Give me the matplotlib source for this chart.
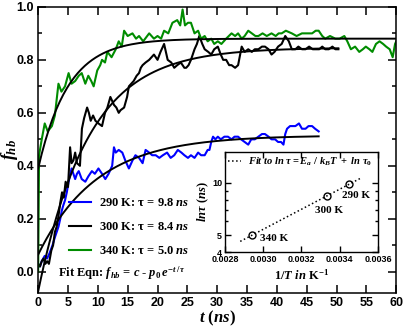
import numpy as np
import matplotlib
matplotlib.use("Agg")
import matplotlib.pyplot as plt
from matplotlib.ticker import MultipleLocator, FixedLocator, NullFormatter

plt.rcParams['mathtext.fontset'] = 'custom'
plt.rcParams['mathtext.rm'] = 'Liberation Serif:bold'
plt.rcParams['mathtext.it'] = 'Liberation Serif:italic:bold'
plt.rcParams['mathtext.bf'] = 'Liberation Serif:bold'

# %% data
temps = [290, 300, 340]
taus = [9.8, 8.4, 5.0]
fit_c = [0.515, 0.846, 0.88]
fit_p0 = [0.45, 0.92, 0.49]
fit_tmax = [47.0, 50.3, 60.0]
colors = ['#0000ff', '#000000', '#008c00']

t_290 = [0, 0.3, 0.6, 1.1, 1.5, 1.9, 2.4, 2.8, 3.1, 3.4, 3.7, 3.95, 4.2, 4.5, 4.8, 5.1, 5.4, 5.6, 5.9,
         6.2, 6.5, 6.8, 7.3, 7.9, 8.4, 9.0, 9.5, 10.1, 10.7, 11.25, 11.8, 12.4, 12.7, 13.0, 13.5, 14.1,
         14.6, 15.2, 15.8, 16.3, 16.9, 17.5, 18.0, 18.6, 19.1, 19.7, 20.3, 20.9, 21.6, 22.2, 22.8, 23.4,
         24.0, 24.5, 25.1, 25.6, 26.2, 26.8, 27.3, 27.9, 28.4, 28.7, 29.0, 29.3, 29.7, 30.1, 30.6, 31.2,
         31.8, 32.4, 32.9, 33.5, 34.0, 34.6, 35.2, 35.7, 36.3, 36.9, 37.5, 38.0, 38.6, 39.1, 39.7, 40.2,
         40.7, 41.1, 41.4, 41.7, 42.2, 42.6, 43.1, 43.7, 44.2, 44.8, 45.3, 45.9, 46.4, 47.0]
f_290 = [0.03, 0.02, 0.04, 0.06, 0.05, 0.07, 0.10, 0.13, 0.15, 0.17, 0.20, 0.23, 0.25, 0.27, 0.30, 0.34,
         0.37, 0.39, 0.37, 0.35, 0.37, 0.38, 0.35, 0.34, 0.36, 0.38, 0.37, 0.39, 0.37, 0.35, 0.37, 0.40,
         0.47, 0.45, 0.46, 0.45, 0.42, 0.39, 0.42, 0.44, 0.43, 0.41, 0.46, 0.45, 0.44, 0.44, 0.43, 0.44,
         0.45, 0.43, 0.44, 0.46, 0.45, 0.44, 0.43, 0.44, 0.43, 0.45, 0.44, 0.44, 0.46, 0.46, 0.49, 0.51,
         0.50, 0.51, 0.50, 0.51, 0.51, 0.50, 0.51, 0.51, 0.50, 0.49, 0.48, 0.50, 0.50, 0.51, 0.52, 0.52,
         0.51, 0.50, 0.50, 0.49, 0.49, 0.48, 0.52, 0.54, 0.55, 0.55, 0.55, 0.56, 0.54, 0.54, 0.55, 0.55,
         0.54, 0.53]

t_300 = [0, 0.3, 0.6, 0.9, 1.2, 1.5, 1.8, 2.2, 2.5, 2.8, 3.1, 3.4, 3.7, 4.0, 4.3, 4.6, 5.0, 5.35, 5.6,
         5.9, 6.2, 6.5, 7.0, 7.33, 7.7, 8.2, 8.5, 8.8, 9.2, 9.6, 10.1, 10.7, 11.2, 11.6, 12.1, 12.7, 13.1,
         13.5, 13.8, 14.4, 14.9, 15.2, 15.6, 16.0, 16.5, 16.9, 17.2, 17.5, 18.0, 18.6, 19.0, 19.4, 20.0,
         20.5, 21.1, 21.7, 22.3, 22.8, 23.3, 23.9, 24.5, 24.8, 25.2, 25.6, 26.2, 26.6, 27.0, 27.5, 27.9,
         28.5, 29.0, 29.5, 30.1, 30.6, 31.0, 31.5, 32.0, 32.4, 33.0, 33.5, 34.1, 34.6, 35.2, 35.8, 36.3,
         36.9, 37.5, 38.0, 38.6, 39.1, 39.6, 40.2, 40.8, 41.4, 42.0, 42.5, 43.1, 43.6, 44.2, 44.8, 45.4,
         46.0, 46.5, 47.1, 47.6, 48.1, 48.7, 49.3, 49.8, 50.3]
f_300 = [0.03, 0.02, 0.04, 0.05, 0.03, 0.04, 0.03, 0.08, 0.10, 0.15, 0.17, 0.21, 0.26, 0.30, 0.28, 0.34,
         0.32, 0.47, 0.41, 0.42, 0.45, 0.41, 0.40, 0.54, 0.58, 0.62, 0.60, 0.57, 0.59, 0.57, 0.56, 0.55,
         0.60, 0.62, 0.66, 0.63, 0.62, 0.60, 0.61, 0.62, 0.66, 0.70, 0.71, 0.72, 0.74, 0.75, 0.77, 0.78,
         0.79, 0.80, 0.81, 0.82, 0.80, 0.83, 0.86, 0.80, 0.79, 0.77, 0.78, 0.79, 0.77, 0.77, 0.78, 0.80,
         0.84, 0.86, 0.89, 0.86, 0.84, 0.83, 0.82, 0.84, 0.85, 0.82, 0.80, 0.80, 0.78, 0.78, 0.77, 0.78,
         0.85, 0.83, 0.84, 0.83, 0.84, 0.84, 0.85, 0.85, 0.84, 0.82, 0.83, 0.85, 0.86, 0.89, 0.87, 0.84,
         0.84, 0.85, 0.84, 0.84, 0.85, 0.84, 0.84, 0.84, 0.85, 0.84, 0.84, 0.85, 0.84, 0.84]

t_340 = [0, 0.15, 0.6, 1.1, 1.6, 2.3, 2.8, 3.4, 3.9, 4.5, 5.1, 5.6, 6.2, 6.8, 7.3, 7.9, 8.4, 8.9, 9.3,
         9.9, 10.4, 10.7, 11.2, 11.6, 12.3, 13.0, 13.5, 14.0, 14.4, 15.0, 15.8, 16.4, 16.9, 17.6, 18.6,
         19.4, 20.0, 20.6, 21.1, 21.8, 22.5, 23.3, 23.8, 24.2, 24.6, 25.1, 25.6, 26.2, 26.8, 27.3, 27.9,
         28.4, 29.0, 29.5, 30.1, 30.7, 31.5, 32.4, 33.0, 33.5, 34.1, 34.6, 35.2, 35.8, 36.4, 36.9, 37.6,
         38.3, 39.1, 39.8, 40.3, 40.8, 41.5, 42.5, 43.3, 44.2, 45.0, 45.9, 46.5, 47.0, 47.6, 48.1, 48.9,
         49.8, 50.5, 51.3, 51.8, 52.4, 53.1, 53.8, 54.4, 54.9, 55.5, 56.0, 56.6, 57.2, 57.8, 58.3, 58.9,
         59.4, 59.8, 60.0]
f_340 = [0.0, 0.44, 0.50, 0.56, 0.53, 0.55, 0.59, 0.71, 0.68, 0.70, 0.75, 0.71, 0.72, 0.74, 0.75, 0.71,
         0.74, 0.72, 0.70, 0.76, 0.78, 0.80, 0.79, 0.83, 0.81, 0.84, 0.87, 0.85, 0.91, 0.89, 0.90, 0.88,
         0.89, 0.87, 0.90, 0.88, 0.89, 0.88, 0.91, 0.90, 0.94, 0.95, 0.93, 0.99, 0.93, 0.94, 0.94, 0.90,
         0.91, 0.88, 0.89, 0.87, 0.88, 0.86, 0.87, 0.86, 0.88, 0.90, 0.89, 0.90, 0.88, 0.89, 0.91, 0.90,
         0.89, 0.89, 0.90, 0.89, 0.90, 0.89, 0.90, 0.90, 0.91, 0.90, 0.89, 0.90, 0.90, 0.90, 0.91, 0.91,
         0.89, 0.88, 0.89, 0.88, 0.88, 0.89, 0.87, 0.84, 0.85, 0.83, 0.84, 0.85, 0.84, 0.83, 0.86, 0.87,
         0.86, 0.85, 0.84, 0.81, 0.86, 0.87]

series_t = [t_290, t_300, t_340]
series_f = [f_290, f_300, f_340]

# inset: tau vs 1/T
inv_T = [1.0 / T for T in temps]
fit_xrange = [0.00288, 0.00351]

# %% figure
fig = plt.figure(figsize=(4.06, 3.27), dpi=100)
ax = fig.add_axes([0.094, 0.104, 0.882, 0.875])

for i in range(3):
    ax.plot(series_t[i], series_f[i], color=colors[i], lw=1.5,
            label=f"{temps[i]} K: τ = {taus[i]} $\\mathit{{ns}}$")
for i in range(3):
    tt = np.linspace(0, fit_tmax[i], 200)
    ax.plot(tt, fit_c[i] - fit_p0[i] * np.exp(-tt / taus[i]), color='black', lw=1.4)

ax.set_xlim(0, 60)
ax.set_ylim(-0.08, 1.0)
ax.xaxis.set_major_locator(MultipleLocator(5))
ax.yaxis.set_major_locator(MultipleLocator(0.2))
ax.yaxis.set_minor_locator(MultipleLocator(0.1))
ax.tick_params(which='both', direction='in', top=True, right=True, width=1.1)
ax.tick_params(which='major', length=5.5, labelsize=9, pad=3)
ax.tick_params(which='minor', length=3)
for lab in ax.get_xticklabels() + ax.get_yticklabels():
    lab.set_fontfamily('Liberation Sans')
    lab.set_fontweight('bold')
for sp in ax.spines.values():
    sp.set_linewidth(1.1)
ax.set_xlabel(r"$t\ (ns)$", fontsize=12, labelpad=0)
ax.set_ylabel(r"$f_{hb}$", fontsize=13)
ax.yaxis.set_label_coords(-0.052, 0.5)

leg = ax.legend(loc='upper left', bbox_to_anchor=(0.085, 0.335), frameon=False,
                handlelength=1.8, handletextpad=0.6, labelspacing=0.95,
                borderpad=0, borderaxespad=0, prop={'family': 'Liberation Serif', 'weight': 'bold', 'size': 9})
ax.text(0.056, 0.07, r"Fit Eqn: $f_{hb}$ = $c$ - $p_0\,e^{-t\,/\,\tau}$", transform=ax.transAxes,
        fontsize=9, family='Liberation Serif', weight='bold', va='center')

# %% inset
axi = fig.add_axes([0.554, 0.229, 0.377, 0.306])
axi.plot(inv_T, taus, 'o', ms=5, mfc='none', mec='black', mew=1.0)
coef = np.polyfit(inv_T, np.log(taus), 1)
xf = np.linspace(fit_xrange[0], fit_xrange[1], 50)
axi.plot(xf, np.exp(np.polyval(coef, xf)), ':', color='black', lw=1.1,
         label=r"$Fit\ to\ ln\ \tau = E_a\ /\ k_BT\ +\ ln\ \tau_0$")
axi.set_yscale('log')
axi.set_xlim(0.0028, 0.0036)
axi.set_ylim(4, 15)
axi.xaxis.set_major_locator(MultipleLocator(0.0002))
axi.yaxis.set_major_locator(FixedLocator([4, 5, 10]))
axi.yaxis.set_minor_locator(FixedLocator([6, 7, 8, 9]))
axi.yaxis.set_major_formatter(matplotlib.ticker.FixedFormatter(['4', '5', '10']))
axi.yaxis.set_minor_formatter(NullFormatter())
axi.tick_params(which='both', direction='in', top=True, right=True, width=1.0)
axi.tick_params(which='major', length=4, labelsize=6.5, pad=2)
axi.tick_params(which='minor', length=2)
for lab in axi.get_xticklabels() + axi.get_yticklabels():
    lab.set_fontfamily('Liberation Sans')
    lab.set_fontweight('bold')
for sp in axi.spines.values():
    sp.set_linewidth(1.0)
axi.set_xlabel(r"$1/T\ in\ \mathrm{K}^{-1}$", fontsize=9, labelpad=3)
axi.set_ylabel(r"$ln\tau\ (ns)$", fontsize=9, labelpad=1)

for T, x, y in zip(temps, [0.00341, 0.00327, 0.002983], [8.4, 6.95, 4.81]):
    axi.text(x, y, f"{T} K", fontsize=8, family='Liberation Serif', weight='bold', va='center')

axi.legend(loc='upper left', frameon=False, fontsize=7.6, handlelength=1.2, handletextpad=0.7,
           borderpad=0.2, borderaxespad=0.1)

fig.savefig("out.png", dpi=100)
